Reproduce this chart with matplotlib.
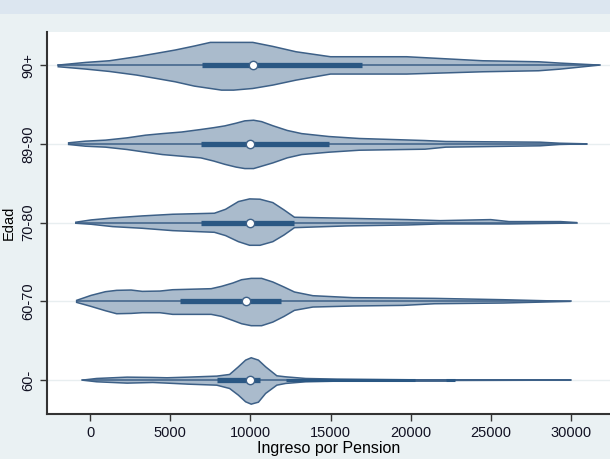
import numpy as np
import matplotlib.pyplot as plt
from matplotlib.patches import Rectangle

# age groups, bottom to top
groups = ['60-', '60-70', '70-80', '89-90', '90+']

# box stats (ingreso por pension)
q1 = [7900, 5600, 6900, 6900, 6950]
medians = [9950, 9750, 9950, 10000, 10150]
q3 = [10600, 11900, 12700, 14900, 16950]
lo_adj = [-500, -850, -900, -1350, -2000]
hi_adj = [30000, 30000, 30400, 31000, 31800]

# violin outlines: x grid, upper half width, lower half width (category units)
x_60 = [-500, 400, 2300, 3900, 4800, 6100, 7900, 8700, 9250, 9700, 10050,
        10500, 10950, 11650, 12200, 13450, 15400, 20250, 22200, 22750, 30000]
up_60 = [0, 0.021, 0.038, 0.034, 0.030, 0.038, 0.051, 0.072, 0.169, 0.254, 0.284,
         0.254, 0.169, 0.055, 0.042, 0.021, 0.013, 0.004, 0.004, 0.004, 0]
lo_60 = [0, 0.021, 0.038, 0.030, 0.038, 0.051, 0.064, 0.106, 0.191, 0.275, 0.305,
         0.280, 0.169, 0.064, 0.042, 0.021, 0.013, 0.013, 0.013, 0.004, 0]

x_6070 = [-850, 50, 950, 1650, 2550, 3250, 4350, 5150, 7550, 8200, 8900, 9450,
          10050, 10700, 11400, 12100, 12750, 13900, 16400, 19550, 21500, 25800, 30000]
up_6070 = [0.013, 0.076, 0.123, 0.140, 0.144, 0.127, 0.131, 0.148, 0.161, 0.191, 0.233, 0.275,
           0.292, 0.292, 0.246, 0.182, 0.119, 0.072, 0.047, 0.042, 0.038, 0.021, 0]
lo_6070 = [0.013, 0.064, 0.119, 0.157, 0.153, 0.144, 0.144, 0.165, 0.165, 0.191, 0.242, 0.284,
           0.309, 0.309, 0.263, 0.191, 0.114, 0.072, 0.059, 0.051, 0.030, 0.021, 0]

x_7080 = [-900, 50, 1400, 3250, 5150, 7750, 8450, 9250, 9950, 10600, 11400,
          12100, 12750, 16050, 19800, 21850, 25000, 26150, 29350, 30400]
up_7080 = [0.005, 0.034, 0.059, 0.085, 0.106, 0.119, 0.169, 0.267, 0.301, 0.297, 0.254,
           0.161, 0.068, 0.055, 0.038, 0.025, 0.038, 0.013, 0.013, 0]
lo_7080 = [0.008, 0.021, 0.051, 0.072, 0.102, 0.123, 0.165, 0.242, 0.288, 0.288, 0.242,
           0.157, 0.064, 0.042, 0.030, 0.017, 0.017, 0.017, 0.008, 0]

x_8990 = [-1350, -300, 950, 2300, 3450, 4500, 5700, 6900, 7700, 8400, 9100, 9650,
          10200, 10700, 11400, 12300, 13200, 14900, 16800, 20900, 22200, 28100, 29300, 31000]
up_8990 = [0.013, 0.034, 0.047, 0.076, 0.110, 0.130, 0.150, 0.182, 0.205, 0.228, 0.262, 0.292,
           0.300, 0.282, 0.230, 0.170, 0.130, 0.093, 0.068, 0.042, 0.030, 0.021, 0.008, 0]
lo_8990 = [0.008, 0.030, 0.042, 0.072, 0.106, 0.136, 0.157, 0.178, 0.218, 0.260, 0.295, 0.314,
           0.314, 0.284, 0.242, 0.178, 0.136, 0.106, 0.081, 0.068, 0.042, 0.025, 0.008, 0]

x_90 = [-2000, -270, 1200, 2900, 4100, 5300, 6500, 7500, 8200, 8950, 10150, 11400,
        12850, 15000, 19750, 22550, 24500, 28000, 29350, 31800]
up_90 = [0, 0.034, 0.055, 0.106, 0.148, 0.191, 0.242, 0.288, 0.288, 0.288, 0.288, 0.237,
         0.169, 0.106, 0.106, 0.076, 0.055, 0.042, 0.025, 0]
lo_90 = [0.021, 0.051, 0.081, 0.127, 0.169, 0.212, 0.267, 0.297, 0.318, 0.318, 0.297, 0.254,
         0.191, 0.114, 0.114, 0.097, 0.085, 0.072, 0.051, 0]

shapes = [(x_60, up_60, lo_60), (x_6070, up_6070, lo_6070), (x_7080, up_7080, lo_7080),
          (x_8990, up_8990, lo_8990), (x_90, up_90, lo_90)]

# darker stretch of the thin outline in the 60- group
dense_60 = [(12200, 20250), (22200, 22750)]

fill_c = '#aabbcc'
edge_c = '#3d6087'
dark_c = '#2a5783'

fig = plt.figure(figsize=(6.1, 4.59), dpi=100, facecolor='#eaf1f3')
fig.patches.append(Rectangle((0, 1 - 14 / 459), 1, 14 / 459, transform=fig.transFigure,
                             facecolor='#dce6f0', edgecolor='none', zorder=0))
ax = fig.add_axes([47 / 610, 45 / 459, 1 - 47 / 610, (414 - 32) / 459])
ax.set_facecolor('white')

for i, (xs, up, lo) in enumerate(shapes):
    y0 = i + 1
    ax.axhline(y0, color='#e8eef0', lw=1, zorder=1)
    xs = np.array(xs)
    px = np.concatenate([xs, xs[::-1]])
    py = np.concatenate([y0 + np.array(up), y0 - np.array(lo)[::-1]])
    ax.fill(px, py, facecolor=fill_c, edgecolor=edge_c, lw=1.1, zorder=2)
    ax.plot([lo_adj[i], hi_adj[i]], [y0, y0], color=edge_c, lw=1.1, zorder=3)
    ax.plot([q1[i], q3[i]], [y0, y0], color=dark_c, lw=3.8, solid_capstyle='butt', zorder=4)
    ax.plot([medians[i]], [y0], 'o', ms=6, mfc='white', mec=edge_c, mew=1, zorder=5)

for a, b in dense_60:
    ax.plot([a, b], [1.005, 1.005], color=dark_c, lw=2.2, solid_capstyle='butt', zorder=3)

ax.set_xlim(-2700, 32450)
ax.set_ylim(0.57, 5.42)
ax.set_xticks([0, 5000, 10000, 15000, 20000, 25000, 30000])
ax.set_yticks(range(1, 6))
ax.set_yticklabels(groups, rotation=90, va='center')
for s in ['top', 'right']:
    ax.spines[s].set_visible(False)
for s in ['left', 'bottom']:
    ax.spines[s].set_color('#333333')
    ax.spines[s].set_linewidth(1.5)
ax.tick_params(length=5, width=1, color='#333333', labelsize=10.5, labelcolor='#111122')
for lab in ax.get_xticklabels() + ax.get_yticklabels():
    lab.set_family('Liberation Sans')
ax.set_xlabel('Ingreso por Pension', fontsize=11.5, family='Liberation Sans', labelpad=1)
ax.set_ylabel('Edad', fontsize=10.5, family='Liberation Sans', labelpad=4)

fig.savefig('out.png', dpi=100, facecolor=fig.get_facecolor())
